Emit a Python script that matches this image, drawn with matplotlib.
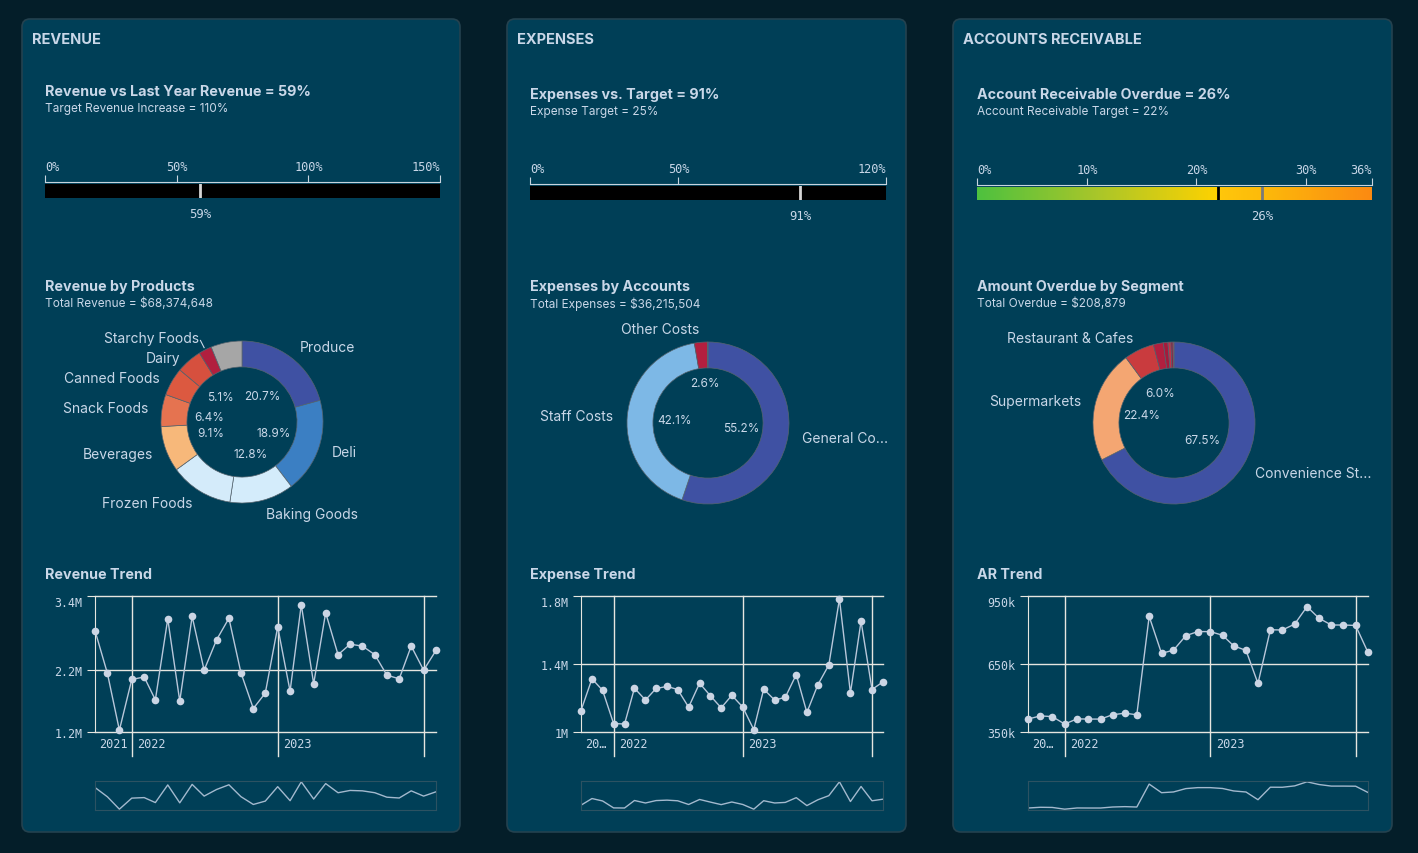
import numpy as np
import pandas as pd
import matplotlib
matplotlib.use("Agg")
import matplotlib.pyplot as plt
from matplotlib.patches import FancyBboxPatch
from matplotlib.transforms import IdentityTransform
from matplotlib.colors import LinearSegmentedColormap

# ---- data ----
months = pd.date_range("2021-10-01", periods=29, freq="MS")

revenue_m = [2.84, 2.15, 1.23, 2.05, 2.09, 1.72, 3.03, 1.70, 3.07, 2.20,
             2.69, 3.04, 2.16, 1.58, 1.83, 2.90, 1.86, 3.26, 1.98, 3.13,
             2.45, 2.62, 2.59, 2.45, 2.12, 2.06, 2.59, 2.20, 2.52]
expense_m = [1.126, 1.313, 1.245, 1.050, 1.047, 1.258, 1.188, 1.256, 1.268, 1.250,
             1.146, 1.287, 1.214, 1.142, 1.216, 1.146, 1.014, 1.252, 1.188, 1.204,
             1.338, 1.115, 1.278, 1.394, 1.783, 1.229, 1.652, 1.250, 1.295]
ar_k = [407, 421, 418, 385, 408, 407, 407, 426, 433, 426,
        860, 697, 711, 775, 793, 793, 777, 730, 710, 564,
        801, 800, 826, 903, 852, 822, 822, 820, 701]

rev_products = ["Produce", "Deli", "Baking Goods", "Frozen Foods", "Beverages",
                "Snack Foods", "Canned Foods", "Dairy", "Starchy Foods", "Other"]
rev_share = [20.7, 18.9, 12.8, 12.6, 9.1, 6.4, 5.6, 5.1, 2.6, 6.2]
rev_name_shown = [1, 1, 1, 1, 1, 1, 1, 1, 1, 0]
rev_pct_shown = [1, 1, 1, 0, 1, 1, 0, 1, 0, 0]
rev_colors = ["#3f51a3", "#3b7fc3", "#d4ecfb", "#d4ebfa", "#f7b87a",
              "#e57350", "#dc5940", "#d6503e", "#b11f3f", "#a6a6a6"]

exp_accounts = ["General Co...", "Staff Costs", "Other Costs", "Misc"]
exp_share = [55.2, 42.1, 2.6, 0.1]
exp_name_shown = [1, 1, 1, 0]
exp_pct_shown = [1, 1, 1, 0]
exp_colors = ["#3f51a3", "#7db8e6", "#b31f3f", "#8f8f9f"]

ar_segments = ["Convenience St...", "Supermarkets", "Restaurant & Cafes",
               "Seg 4", "Seg 5", "Seg 6", "Seg 7", "Seg 8"]
ar_share = [67.5, 22.4, 6.0, 2.0, 0.9, 0.6, 0.4, 0.2]
ar_name_shown = [1, 1, 1, 0, 0, 0, 0, 0]
ar_pct_shown = [1, 1, 1, 0, 0, 0, 0, 0]
ar_colors = ["#3f51a3", "#f4a672", "#c93b3e", "#b11f3f", "#a51a3c",
             "#c2324a", "#9b163a", "#d04050"]

rev_ticks = [1.2, 2.2, 3.4]
rev_tick_labels = ["1.2M", "2.2M", "3.4M"]
exp_ticks = [1.0, 1.4, 1.8]
exp_tick_labels = ["1M", "1.4M", "1.8M"]
ar_ticks = [350, 650, 950]
ar_tick_labels = ["350k", "650k", "950k"]

# ---- style ----
W, H = 1418, 854
BG = "#041e29"
PANEL = "#003f57"
TXT = "#c9d7e8"
GRID = "#e6e6e0"
MONO = "DejaVu Sans Mono"
plt.rcParams["font.family"] = ["Inter", "DejaVu Sans"]

fig = plt.figure(figsize=(W / 100, H / 100), dpi=100, facecolor=BG)


def px_axes(x0, y0, x1, y1):
    ax = fig.add_axes([x0 / W, 1 - y1 / H, (x1 - x0) / W, (y1 - y0) / H])
    ax.set_facecolor("none")
    return ax


def ftext(x, y, s, **kw):
    fig.text(x / W, 1 - y / H, s, color=TXT, **kw)


def panel(x0, y0, x1, y1, title):
    p = FancyBboxPatch((x0, H - y1), x1 - x0, y1 - y0,
                       boxstyle="round,pad=0,rounding_size=8",
                       transform=IdentityTransform(), facecolor=PANEL,
                       edgecolor="#24424f", linewidth=1.2, zorder=-5)
    fig.add_artist(p)
    ftext(x0 + 10, y0 + 20, title, fontsize=10.5, fontweight="bold", va="center")


def titles(x, y, title, sub):
    ftext(x, y, title, fontsize=10.3, fontweight="bold", va="center")
    if sub:
        ftext(x, y + 17, sub, fontsize=8.5, va="center")


def gauge(x0, x1, yb0, yb1, vmax, ticks, value, target=None, gradient=None):
    ax = px_axes(x0, yb0, x1, yb1)
    ax.set_xlim(0, vmax)
    ax.set_ylim(0, 1)
    if gradient is None:
        ax.barh(0.5, vmax, height=1, color="black")
        ax.axvline(value, color="#d6d6d6", lw=2)
    else:
        ax.imshow(np.linspace(0, vmax, 500)[None, :], extent=[0, vmax, 0, 1],
                  aspect="auto", cmap=gradient, vmin=0, vmax=vmax)
        ax.axvline(target, color="black", lw=2)
        ax.axvline(value, color="#7a7a7a", lw=2)
    ax.set_yticks([])
    for s in ["left", "right", "bottom"]:
        ax.spines[s].set_visible(False)
    ax.spines["top"].set_position(("outward", 1.5))
    ax.spines["top"].set_color("#c8d4de")
    ax.xaxis.tick_top()
    ax.set_xticks(ticks, [f"{t}%" for t in ticks])
    ax.tick_params(axis="x", direction="out", length=5, color="#c8d4de",
                   labelsize=8.6, labelcolor=TXT, pad=1.5)
    labs = ax.get_xticklabels()
    for lab in labs:
        lab.set_fontfamily(MONO)
    labs[0].set_ha("left")
    labs[-1].set_ha("right")
    ax.annotate(f"{value}%", xy=(value, 0), xytext=(0, -11), textcoords="offset points",
                ha="center", va="center", fontsize=8.8, fontfamily=MONO, color=TXT)


def donut(cx, cy, names, shares, colors, name_shown, pct_shown, leader=False):
    R = 81
    half = 1.6 * R
    ax = px_axes(cx - half, cy - half, cx + half, cy + half)
    wedges, _ = ax.pie(shares, colors=colors, startangle=90, counterclock=False,
                       radius=1, wedgeprops=dict(width=0.32, edgecolor="#56646e",
                                                 linewidth=0.5))
    ax.set_xlim(-1.6, 1.6)
    ax.set_ylim(-1.6, 1.6)
    left_y = None
    # walk slices from the top going anticlockwise for left-side spacing
    items = list(zip(wedges, names, shares, name_shown, pct_shown))
    placed = []
    for w, name, v, sn, sp in items:
        a = np.deg2rad((w.theta1 + w.theta2) / 2)
        placed.append((np.cos(a), np.sin(a), name, v, sn, sp))
    # left labels: keep a minimum vertical gap, top to bottom
    min_gap = 20 / R
    left = sorted([p for p in placed if p[0] <= 0 and p[4]], key=lambda p: -p[1])
    ly = {}
    for p in left:
        y = 1.17 * p[1]
        if left_y is not None and left_y - y < min_gap:
            y = left_y - min_gap
        ly[p[2]] = y
        left_y = y
    for x, y, name, v, sn, sp in placed:
        if sn:
            ty = ly.get(name, 1.17 * y)
            ax.text(1.17 * x, ty, name, ha="left" if x > 0 else "right",
                    va="center", fontsize=10, color=TXT)
            if leader and v < 3:
                ax.plot([1.03 * x, 1.13 * x], [1.03 * y, 1.13 * y], color=TXT, lw=0.8)
        if sp:
            r = 0.5 if v < 3 else 0.41
            ax.text(r * x, r * y, f"{v:.1f}%", ha="center", va="center",
                    fontsize=8.5, color=TXT)


def trend(x0, x1, values, ticks, tick_labels, first_label):
    ax = px_axes(x0, 597, x1, 733)
    ax.plot(months, values, color="#b9c7da", lw=1, marker="o", ms=5.5,
            mfc="#cbd5e4", mec="none", clip_on=False, zorder=3)
    ax.set_xlim(months[0], months[-1])
    ax.set_ylim(ticks[0], ticks[-1])
    ax.set_yticks(ticks, tick_labels)
    ax.set_xticks([])
    for t in ticks:
        ax.axhline(t, color=GRID, lw=1, clip_on=False, zorder=1)
    for s in ["right", "top", "bottom"]:
        ax.spines[s].set_visible(False)
    ax.spines["left"].set_color(GRID)
    ax.tick_params(axis="y", length=6, color=GRID, labelcolor=TXT, labelsize=8.4, pad=3)
    labs = ax.get_yticklabels()
    for lab in labs:
        lab.set_fontfamily(MONO)
    labs[-1].set_va("top")
    ax.annotate(first_label, xy=(months[0], 0), xycoords=("data", "axes fraction"),
                xytext=(3, -8), textcoords="offset points", ha="left", va="center",
                fontsize=8.6, fontfamily=MONO, color=TXT)
    for d in months:
        if d.month == 1:
            ax.axvline(d, ymin=-0.18, ymax=1, color=GRID, lw=1, clip_on=False)
            if d.year < months[-1].year:
                ax.annotate(str(d.year), xy=(d, 0), xycoords=("data", "axes fraction"),
                            xytext=(4, -8), textcoords="offset points", ha="left",
                            va="center", fontsize=8.6, fontfamily=MONO, color=TXT)
    mini = px_axes(x0, 782, x1, 811)
    mini.plot(months, values, color="#a3b9ce", lw=1)
    mini.set_xlim(months[0], months[-1])
    mini.margins(y=0.03)
    mini.set_xticks([])
    mini.set_yticks([])
    for s in mini.spines.values():
        s.set_color("#2c5262")


# ---- panels ----
panel(22, 20, 460, 833, "REVENUE")
panel(507, 20, 906, 833, "EXPENSES")
panel(953, 20, 1392, 833, "ACCOUNTS RECEIVABLE")

# revenue column
titles(45, 92, "Revenue vs Last Year Revenue = 59%", "Target Revenue Increase = 110%")
gauge(45, 440, 185, 199, 150, [0, 50, 100, 150], 59)
titles(45, 287, "Revenue by Products", "Total Revenue = $68,374,648")
donut(242, 423, rev_products, rev_share, rev_colors, rev_name_shown, rev_pct_shown,
      leader=True)
titles(45, 575, "Revenue Trend", None)
trend(95, 436, revenue_m, rev_ticks, rev_tick_labels, "2021")

# expenses column
titles(530, 95, "Expenses vs. Target = 91%", "Expense Target = 25%")
gauge(530, 886, 187, 201, 120, [0, 50, 120], 91)
titles(530, 287, "Expenses by Accounts", "Total Expenses = $36,215,504")
donut(708, 424, exp_accounts, exp_share, exp_colors, exp_name_shown, exp_pct_shown)
titles(530, 575, "Expense Trend", None)
trend(581, 883, expense_m, exp_ticks, exp_tick_labels, "20…")

# accounts receivable column
ar_cmap = LinearSegmentedColormap.from_list(
    "ar", [(0.0, "#4ec13f"), (0.3, "#a8c62a"), (0.611, "#ffd200"),
           (0.62, "#ffc60c"), (0.72, "#fdbb0a"), (1.0, "#fb8a12")])
titles(977, 95, "Account Receivable Overdue = 26%", "Account Receivable Target = 22%")
gauge(977, 1372, 188, 201, 36, [0, 10, 20, 30, 36], 26, target=22, gradient=ar_cmap)
titles(977, 287, "Amount Overdue by Segment", "Total Overdue = $208,879")
donut(1174, 424, ar_segments, ar_share, ar_colors, ar_name_shown, ar_pct_shown)
titles(977, 575, "AR Trend", None)
trend(1028, 1368, ar_k, ar_ticks, ar_tick_labels, "20…")

fig.savefig("out.png", dpi=100, facecolor=BG)
